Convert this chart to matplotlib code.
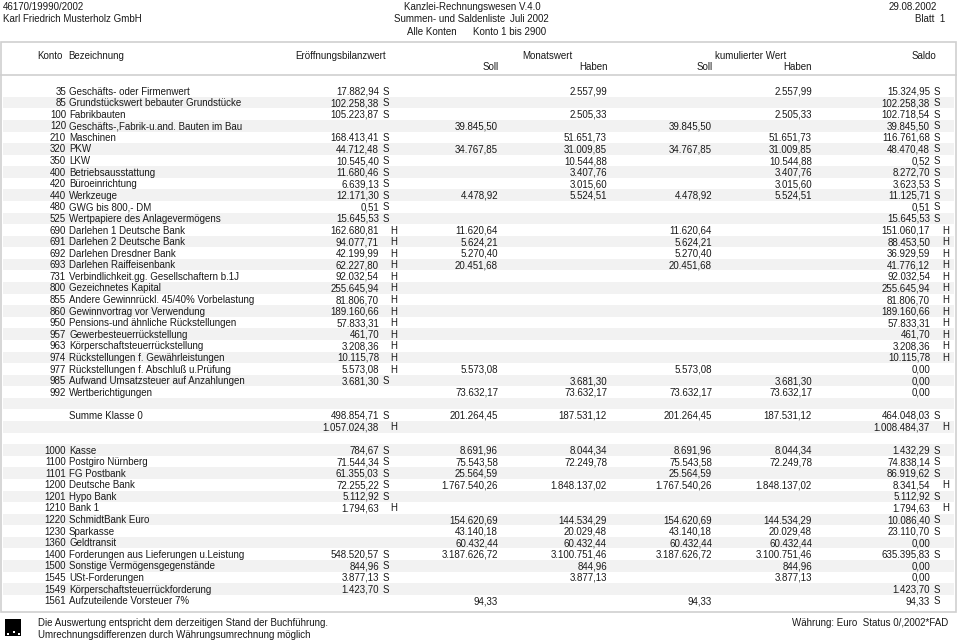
import matplotlib.pyplot as plt
from matplotlib.patches import Rectangle

plt.rcParams['font.family'] = ['Liberation Sans', 'DejaVu Sans']

# Kontenliste (leere Einträge = Leerzeile)
konto = ['35', '85', '100', '120', '210', '320', '350', '400', '420', '440',
         '480', '525', '690', '691', '692', '693', '731', '800', '855', '860',
         '950', '957', '963', '974', '977', '985', '992', '', '', '', '',
         '1000', '1100', '1101', '1200', '1201', '1210', '1220', '1230', '1360',
         '1400', '1500', '1545', '1549', '1561']
bezeichnung = ['Geschäfts- oder Firmenwert', 'Grundstückswert bebauter Grundstücke',
               'Fabrikbauten', 'Geschäfts-,Fabrik-u.and. Bauten im Bau', 'Maschinen',
               'PKW', 'LKW', 'Betriebsausstattung', 'Büroeinrichtung', 'Werkzeuge',
               'GWG bis 800,- DM', 'Wertpapiere des Anlagevermögens',
               'Darlehen 1 Deutsche Bank', 'Darlehen 2 Deutsche Bank',
               'Darlehen Dresdner Bank', 'Darlehen Raiffeisenbank',
               'Verbindlichkeit.gg. Gesellschaftern b.1J', 'Gezeichnetes Kapital',
               'Andere Gewinnrückl. 45/40% Vorbelastung', 'Gewinnvortrag vor Verwendung',
               'Pensions-und ähnliche Rückstellungen', 'Gewerbesteuerrückstellung',
               'Körperschaftsteuerrückstellung', 'Rückstellungen f. Gewährleistungen',
               'Rückstellungen f. Abschluß u.Prüfung', 'Aufwand Umsatzsteuer auf Anzahlungen',
               'Wertberichtigungen', '', 'Summe Klasse 0', '', '',
               'Kasse', 'Postgiro Nürnberg', 'FG Postbank', 'Deutsche Bank', 'Hypo Bank',
               'Bank 1', 'SchmidtBank Euro', 'Sparkasse', 'Geldtransit',
               'Forderungen aus Lieferungen u.Leistung', 'Sonstige Vermögensgegenstände',
               'USt-Forderungen', 'Körperschaftsteuerrückforderung',
               'Aufzuteilende Vorsteuer 7%']
eb_wert = ['17.882,94', '102.258,38', '105.223,87', '', '168.413,41', '44.712,48',
           '10.545,40', '11.680,46', '6.639,13', '12.171,30', '0,51', '15.645,53',
           '162.680,81', '94.077,71', '42.199,99', '62.227,80', '92.032,54',
           '255.645,94', '81.806,70', '189.160,66', '57.833,31', '461,70', '3.208,36',
           '10.115,78', '5.573,08', '3.681,30', '', '', '498.854,71', '1.057.024,38', '',
           '784,67', '71.544,34', '61.355,03', '72.255,22', '5.112,92', '1.794,63',
           '', '', '', '548.520,57', '844,96', '3.877,13', '1.423,70', '']
eb_sh = ['S', 'S', 'S', '', 'S', 'S', 'S', 'S', 'S', 'S', 'S', 'S',
         'H', 'H', 'H', 'H', 'H', 'H', 'H', 'H', 'H', 'H', 'H', 'H', 'H', 'S', '',
         '', 'S', 'H', '',
         'S', 'S', 'S', 'S', 'S', 'H', '', '', '', 'S', 'S', 'S', 'S', '']
monat_soll = ['', '', '', '39.845,50', '', '34.767,85', '', '', '', '4.478,92',
              '', '', '11.620,64', '5.624,21', '5.270,40', '20.451,68', '', '', '', '',
              '', '', '', '', '5.573,08', '', '73.632,17', '', '201.264,45', '', '',
              '8.691,96', '75.543,58', '25.564,59', '1.767.540,26', '', '',
              '154.620,69', '43.140,18', '60.432,44', '3.187.626,72', '', '', '', '94,33']
monat_haben = ['2.557,99', '', '2.505,33', '', '51.651,73', '31.009,85', '10.544,88',
               '3.407,76', '3.015,60', '5.524,51', '', '', '', '', '', '', '', '', '',
               '', '', '', '', '', '', '3.681,30', '73.632,17', '', '187.531,12', '', '',
               '8.044,34', '72.249,78', '', '1.848.137,02', '', '', '144.534,29',
               '20.029,48', '60.432,44', '3.100.751,46', '844,96', '3.877,13', '', '']
kum_soll = ['', '', '', '39.845,50', '', '34.767,85', '', '', '', '4.478,92',
            '', '', '11.620,64', '5.624,21', '5.270,40', '20.451,68', '', '', '', '',
            '', '', '', '', '5.573,08', '', '73.632,17', '', '201.264,45', '', '',
            '8.691,96', '75.543,58', '25.564,59', '1.767.540,26', '', '',
            '154.620,69', '43.140,18', '60.432,44', '3.187.626,72', '', '', '', '94,33']
kum_haben = ['2.557,99', '', '2.505,33', '', '51.651,73', '31.009,85', '10.544,88',
             '3.407,76', '3.015,60', '5.524,51', '', '', '', '', '', '', '', '', '',
             '', '', '', '', '', '', '3.681,30', '73.632,17', '', '187.531,12', '', '',
             '8.044,34', '72.249,78', '', '1.848.137,02', '', '', '144.534,29',
             '20.029,48', '60.432,44', '3.100.751,46', '844,96', '3.877,13', '', '']
saldo = ['15.324,95', '102.258,38', '102.718,54', '39.845,50', '116.761,68',
         '48.470,48', '0,52', '8.272,70', '3.623,53', '11.125,71', '0,51', '15.645,53',
         '151.060,17', '88.453,50', '36.929,59', '41.776,12', '92.032,54', '255.645,94',
         '81.806,70', '189.160,66', '57.833,31', '461,70', '3.208,36', '10.115,78',
         '0,00', '0,00', '0,00', '', '464.048,03', '1.008.484,37', '',
         '1.432,29', '74.838,14', '86.919,62', '8.341,54', '5.112,92', '1.794,63',
         '10.086,40', '23.110,70', '0,00', '635.395,83', '0,00', '0,00', '1.423,70',
         '94,33']
saldo_sh = ['S', 'S', 'S', 'S', 'S', 'S', 'S', 'S', 'S', 'S', 'S', 'S',
            'H', 'H', 'H', 'H', 'H', 'H', 'H', 'H', 'H', 'H', 'H', 'H', '', '', '',
            '', 'S', 'H', '',
            'S', 'S', 'S', 'H', 'S', 'H', 'S', 'S', '', 'S', '', '', 'S', 'S']

fs = 7.0
col = '#1a1a1a'

fig = plt.figure(figsize=(9.59, 6.42), dpi=100)
ax = fig.add_axes([0, 0, 1, 1])
ax.set_xlim(0, 959)
ax.set_ylim(642, 0)
ax.axis('off')

def txt(x, y, s, ha='left'):
    # y = optische Mitte der Zeile, Text sitzt auf der Grundlinie
    ax.text(x, y + 3.6, s, ha=ha, va='baseline', fontsize=fs, color=col)

# Kopf
txt(3, 6.5, '46170/19990/2002')
txt(3, 18.5, 'Karl Friedrich Musterholz GmbH')
txt(472, 6.5, 'Kanzlei-Rechnungswesen V.4.0', ha='center')
txt(394, 18.5, 'Summen- und Saldenliste')
txt(510, 18.5, 'Juli 2002')
txt(407, 31.5, 'Alle Konten')
txt(473, 31.5, 'Konto 1 bis 2900')
txt(937, 6.5, '29.08.2002', ha='right')
txt(945, 18.5, 'Blatt  1', ha='right')

# Rahmen
ax.add_patch(Rectangle((1, 42), 955, 570, fill=False, edgecolor='#cfcfcf', lw=1.2))
ax.plot([1, 956], [75, 75], color='#cfcfcf', lw=1.2)

txt(37, 55, 'Konto')
txt(68, 55, 'Bezeichnung')
txt(341, 55, 'Eröffnungsbilanzwert', ha='center')
txt(547, 55, 'Monatswert', ha='center')
txt(751, 55, 'kumulierter Wert', ha='center')
txt(924, 55, 'Saldo', ha='center')
txt(491, 66, 'Soll', ha='center')
txt(593, 66, 'Haben', ha='center')
txt(705, 66, 'Soll', ha='center')
txt(797, 66, 'Haben', ha='center')

y0 = 91.0
dy = 11.58
for i in range(len(konto)):
    y = y0 + i * dy
    if i % 2 == 1:
        ax.add_patch(Rectangle((3, y - dy / 2), 951, dy, facecolor='#f2f2f2',
                               edgecolor='none', zorder=0))
    txt(66, y, konto[i], ha='right')
    txt(69, y, bezeichnung[i])
    txt(379, y, eb_wert[i], ha='right')
    if eb_sh[i] == 'S':
        txt(383, y, 'S')
    elif eb_sh[i] == 'H':
        txt(390, y, 'H')
    txt(498, y, monat_soll[i], ha='right')
    txt(607, y, monat_haben[i], ha='right')
    txt(712, y, kum_soll[i], ha='right')
    txt(812, y, kum_haben[i], ha='right')
    txt(930, y, saldo[i], ha='right')
    if saldo_sh[i] == 'S':
        txt(934, y, 'S')
    elif saldo_sh[i] == 'H':
        txt(942, y, 'H')

# Fußzeile
ax.add_patch(Rectangle((5, 619), 16, 17, facecolor='black', edgecolor='none'))
ax.add_patch(Rectangle((7, 633), 2, 2, facecolor='white', edgecolor='none'))
ax.add_patch(Rectangle((13, 631), 2, 2, facecolor='white', edgecolor='none'))
ax.add_patch(Rectangle((18, 633), 2, 2, facecolor='white', edgecolor='none'))
txt(38, 622, 'Die Auswertung entspricht dem derzeitigen Stand der Buchführung.')
txt(38, 634, 'Umrechnungsdifferenzen durch Währungsumrechnung möglich')
txt(948, 622, 'Währung: Euro  Status 0/,2002*FAD', ha='right')

fig.savefig('out.png', dpi=100)
